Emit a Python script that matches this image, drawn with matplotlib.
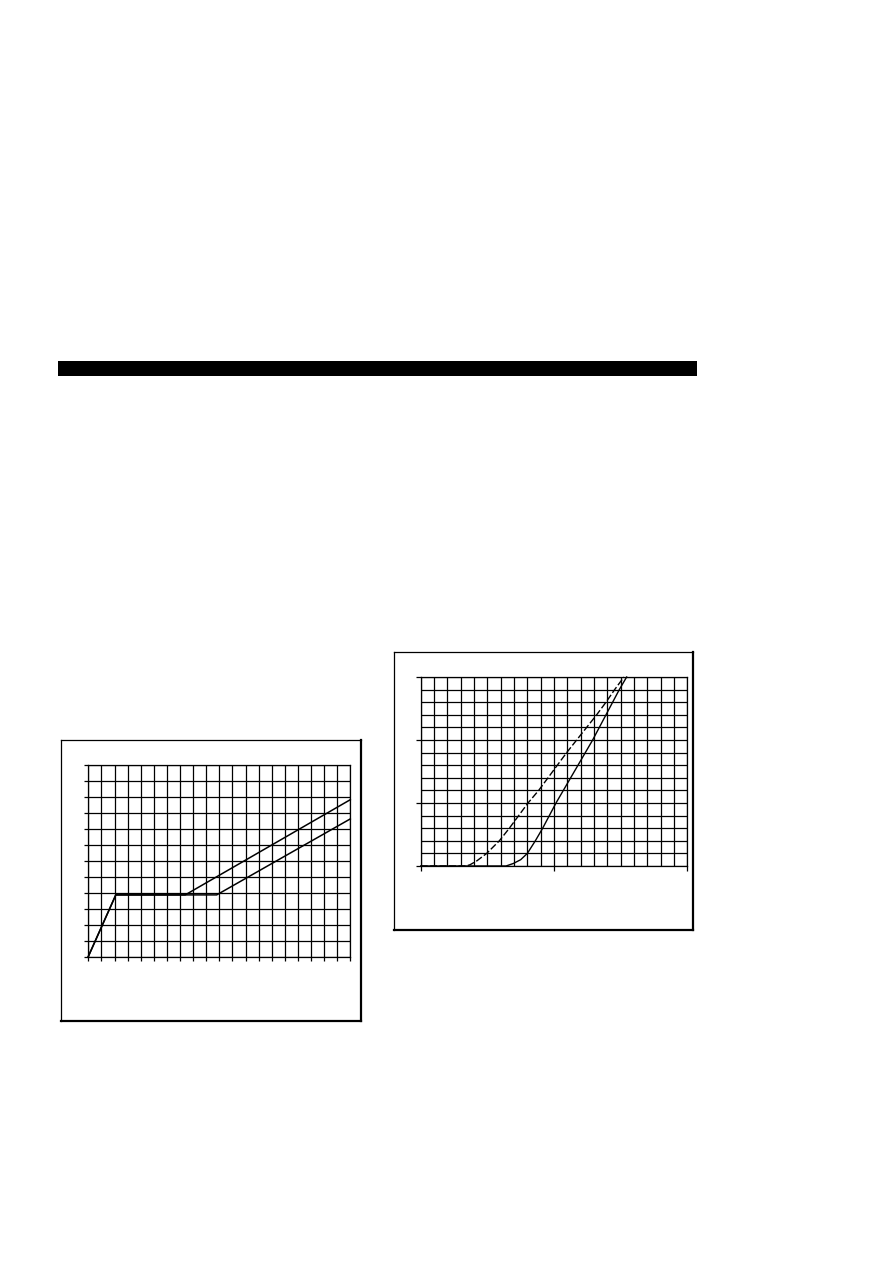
import matplotlib
matplotlib.use("Agg")
import matplotlib.pyplot as plt
from matplotlib.patches import Rectangle
from matplotlib.lines import Line2D

W, H = 893, 1262

# chart 1 : two branches sharing the first ramp and plateau
c1_upper_x = [0, 2.1, 7.4, 20]
c1_upper_y = [0, 3.85, 3.85, 9.8]
c1_lower_x = [0, 2.1, 9.8, 20]
c1_lower_y = [0, 3.85, 3.85, 8.6]

# chart 2 : dashed and solid curves
c2_dash_x = [0, 3.4, 3.7, 4.2, 4.95, 5.9, 6.65, 7.35, 8.05, 8.85, 9.55, 10.25,
             10.95, 11.7, 12.45, 13.2, 13.9, 14.55, 15.25]
c2_dash_y = [0, 0, 0.1, 0.4, 1, 2, 3, 4, 5, 6, 7, 8,
             9, 10, 11, 12, 13, 14, 15]
c2_solid_x = [0, 6.4, 6.95, 7.5, 8.0, 8.6, 9.15, 9.65, 10.15, 10.7, 11.25, 11.8,
              12.35, 12.9, 13.4, 13.9, 14.4, 14.9, 15.45]
c2_solid_y = [0, 0, 0.2, 0.5, 1, 2, 3, 4, 5, 6, 7, 8,
              9, 10, 11, 12, 13, 14, 15]


def fx(px):
    return px / W


def fy(py):
    return 1 - py / H


def box(fig, x0, y0, x1, y1):
    # thin left/top, heavier right/bottom edge
    fig.add_artist(Line2D([fx(x0), fx(x1)], [fy(y0), fy(y0)], color="black", lw=0.9))
    fig.add_artist(Line2D([fx(x0), fx(x0)], [fy(y0), fy(y1)], color="black", lw=0.9))
    fig.add_artist(Line2D([fx(x1), fx(x1)], [fy(y0), fy(y1)], color="black", lw=1.6))
    fig.add_artist(Line2D([fx(x0), fx(x1)], [fy(y1), fy(y1)], color="black", lw=1.6))


def grid_axes(fig, x0, y0, x1, y1):
    ax = fig.add_axes([fx(x0), fy(y1), fx(x1) - fx(x0), fy(y0) - fy(y1)])
    for s in ax.spines.values():
        s.set_color("black")
        s.set_linewidth(0.9)
    ax.tick_params(which="both", direction="out", color="black", width=0.9,
                   labelbottom=False, labelleft=False)
    return ax


fig = plt.figure(figsize=(W / 100, H / 100), dpi=100)

# black header bar
fig.add_artist(Rectangle((fx(58), fy(376)), fx(697) - fx(58), fy(361) - fy(376),
                         facecolor="black", edgecolor="none"))

# ---- chart 1 ----
box(fig, 61, 740, 361, 1021)
ax1 = grid_axes(fig, 88.3, 764.5, 350.3, 956.5)
ax1.set_xlim(0, 20)
ax1.set_ylim(0, 12)
ax1.set_xticks(range(21))
ax1.set_yticks(range(13))
ax1.tick_params(length=3)
ax1.grid(True, color="black", lw=0.9)
ax1.plot(c1_upper_x, c1_upper_y, color="black", lw=1.1, clip_on=False)
ax1.plot(c1_lower_x, c1_lower_y, color="black", lw=1.1, clip_on=False)

# ---- chart 2 ----
box(fig, 394, 652, 693, 930)
ax2 = grid_axes(fig, 420.7, 677, 687.3, 866)
ax2.set_xlim(0, 20)
ax2.set_ylim(0, 15)
ax2.set_xticks([0, 10, 20])
ax2.set_yticks([0, 5, 10, 15])
ax2.set_xticks(range(21), minor=True)
ax2.set_yticks(range(16), minor=True)
ax2.tick_params(which="major", length=3.5)
ax2.tick_params(which="minor", length=0)
ax2.grid(True, which="both", color="black", lw=0.9)
ax2.plot(c2_dash_x, c2_dash_y, color="black", lw=1.0, ls=(0, (5, 1.8)), clip_on=False)
ax2.plot(c2_solid_x, c2_solid_y, color="black", lw=1.0, clip_on=False)

fig.savefig("out.png", dpi=100)
